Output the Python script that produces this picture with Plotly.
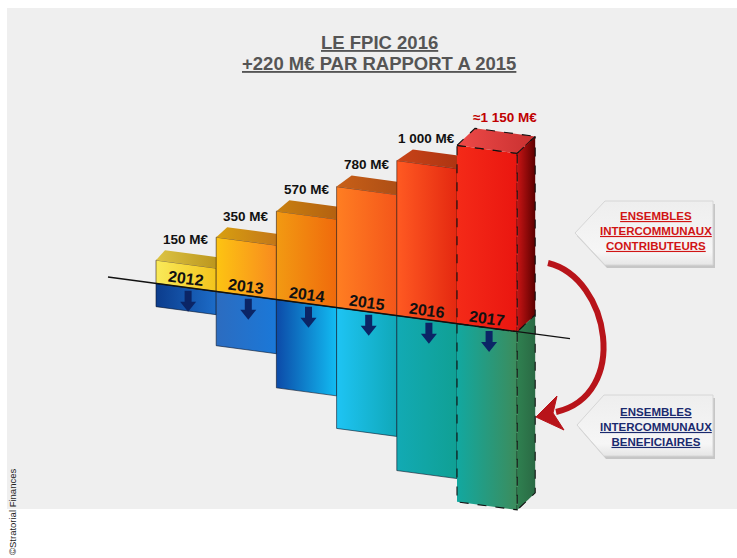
import math
import plotly.graph_objects as go

# ---- data -------------------------------------------------------------
years = ["2012", "2013", "2014", "2015", "2016", "2017"]
fpic_meur = [150, 350, 570, 780, 1000, 1150]          # national FPIC envelope, M€
estimated = [False, False, False, False, False, True]  # 2017 is a projection

title_lines = ["LE FPIC 2016", "+220 M€ PAR RAPPORT A 2015"]
contrib_label = ["ENSEMBLES", "INTERCOMMUNAUX", "CONTRIBUTEURS"]
benef_label = ["ENSEMBLES", "INTERCOMMUNAUX", "BENEFICIAIRES"]
credit = "©Stratorial Finances"

# ---- drawing geometry (pixel-like units, y axis pointing down) ---------
W, H = 737, 558
X0, BAR_W = 156.0, 60.2
BASE_X, BASE_Y, SLOPE = 108.0, 277.0, 0.1335
LINE_END_X = 570.0
PX_PER_MEUR = 0.155
DEPTH_DX = [9, 11, 13, 15, 16, 18]
DEPTH_DY = [-10, -10, -11, -11, -11, -17]

FRONT_UP = [("#f9ea5a", "#f3c41c"), ("#fdc412", "#f88a1e"), ("#f29a12", "#f06a0c"),
            ("#ff7e22", "#f4561a"), ("#ff5a22", "#e42810"), ("#f42a18", "#ea1610")]
TOP_UP = [("#dcc444", "#b89018"), ("#d8a010", "#c0701a"), ("#c88010", "#b05a10"),
          ("#c86018", "#a84a14"), ("#c84418", "#a83010"), ("#ee4a48", "#c83030")]
FRONT_DN = [("#0c3c8c", "#1c6cc8"), ("#2c6cc0", "#1a78d8"), ("#0c4aa8", "#12bcf2"),
            ("#1ec4f4", "#10a8b8"), ("#12aab4", "#10a094"), ("#12a8a0", "#3c8c5c")]
SIDE_UP = ("#c81414", "#5c0000")
SIDE_DN = ("#2f8050", "#2a6a44")
FONT = "Liberation Sans, Arial"


def base_y(x):
    return BASE_Y + SLOPE * (x - BASE_X)


fig = go.Figure()


def face(xs, ys, c0, c1, line_color="rgba(30,20,10,0.75)", dash=None, lw=0.8):
    fig.add_trace(go.Scatter(
        x=xs + [xs[0]], y=ys + [ys[0]], mode="lines", fill="toself",
        fillgradient=dict(type="horizontal", colorscale=[[0, c0], [1, c1]]),
        line=dict(color=line_color, width=lw, dash=dash),
        hoverinfo="skip", showlegend=False))


# beneficiaries: the same amounts redistributed below the axis
for i, v in enumerate(fpic_meur):
    x0 = X0 + i * BAR_W
    x1 = x0 + BAR_W
    h = v * PX_PER_MEUR
    dash = "dash" if estimated[i] else None
    lc = "#111111" if estimated[i] else "rgba(10,20,40,0.75)"
    face([x0, x1, x1, x0], [base_y(x0), base_y(x1), base_y(x1) + h, base_y(x0) + h],
         *FRONT_DN[i], line_color=lc, dash=dash, lw=1.1 if estimated[i] else 0.8)
    if estimated[i]:
        dx, dy = DEPTH_DX[i], DEPTH_DY[i]
        face([x1, x1 + dx, x1 + dx, x1],
             [base_y(x1), base_y(x1) + dy, base_y(x1) + dy + h, base_y(x1) + h],
             *SIDE_DN, line_color="#111111", dash="dash", lw=1.1)

# contributors: bars rising above the axis
for i, v in enumerate(fpic_meur):
    x0 = X0 + i * BAR_W
    x1 = x0 + BAR_W
    h = v * PX_PER_MEUR
    dx, dy = DEPTH_DX[i], DEPTH_DY[i]
    dash = "dash" if estimated[i] else None
    lc = "#111111" if estimated[i] else "rgba(40,20,10,0.7)"
    lw = 1.1 if estimated[i] else 0.8
    yt0, yt1 = base_y(x0) - h, base_y(x1) - h
    face([x0, x1, x1, x0], [yt0, yt1, base_y(x1), base_y(x0)],
         *FRONT_UP[i], line_color=lc, dash=dash, lw=lw)
    face([x0, x1, x1 + dx, x0 + dx], [yt0, yt1, yt1 + dy, yt0 + dy],
         *TOP_UP[i], line_color=lc if estimated[i] else "rgba(0,0,0,0)", dash=dash, lw=lw)
    if estimated[i]:
        face([x1, x1 + dx, x1 + dx, x1], [yt1, yt1 + dy, base_y(x1) + dy, base_y(x1)],
             *SIDE_UP, line_color="#111111", dash="dash", lw=1.1)

ann = []

# ---- right-hand callout boxes ------------------------------------------
boxes = [
    ([575, 605, 713, 713, 605], [233, 201, 201, 265, 265], contrib_label, "#d01414", 231),
    ([577, 604, 713, 713, 604], [425, 395, 395, 456, 456], benef_label, "#1a2a6e", 427),
]
for bx, by, lines, col, ymid in boxes:
    fig.add_trace(go.Scatter(x=[v + 2 for v in bx] + [bx[0] + 2], y=[v + 3 for v in by] + [by[0] + 3],
                             mode="lines", fill="toself", fillcolor="#c6c6c6",
                             line=dict(width=0), hoverinfo="skip", showlegend=False))
    fig.add_trace(go.Scatter(x=bx + [bx[0]], y=by + [by[0]], mode="lines", fill="toself",
                             fillgradient=dict(type="vertical",
                                               colorscale=[[0, "#e6e6e6"], [0.2, "#f6f6f6"], [1, "#eeeeee"]]),
                             line=dict(color="#d6d6d6", width=1), hoverinfo="skip", showlegend=False))
    ann.append(dict(x=656, y=ymid, showarrow=False, align="center",
                    text="<br>".join(f"<b><u>{t}</u></b>" for t in lines),
                    font=dict(family=FONT, size=11.5, color=col)))

# ---- decorations: axis line, down arrows, curved redistribution arrow --
shapes = [dict(type="rect", xref="x", yref="y", x0=7, y0=8, x1=W, y1=509,
               fillcolor="#efefef", line=dict(width=0), layer="below")]
for i in range(len(years)):
    cx = X0 + i * BAR_W + BAR_W / 2 + 2
    top, tip = base_y(cx) + 3, base_y(cx) + 24
    p = (f"M {cx-3.5},{top} L {cx+3.5},{top} L {cx+3.5},{tip-10} L {cx+8},{tip-10} "
         f"L {cx},{tip} L {cx-8},{tip-10} L {cx-3.5},{tip-10} Z")
    shapes.append(dict(type="path", path=p, xref="x", yref="y",
                       fillcolor="#0b2566", line=dict(width=0)))
shapes.append(dict(type="line", xref="x", yref="y", x0=BASE_X, y0=base_y(BASE_X),
                   x1=LINE_END_X, y1=base_y(LINE_END_X), line=dict(color="#111111", width=1.4)))
shapes.append(dict(type="path", xref="x", yref="y",
                   path="M 548,263 C 610,278 630,395 556,412",
                   line=dict(color="#b8141a", width=6)))
shapes.append(dict(type="path", xref="x", yref="y",
                   path="M 536,417 L 557,396 L 553,413 L 564,430 Z",
                   fillcolor="#b8141a", line=dict(color="#b8141a", width=1)))

# ---- text --------------------------------------------------------------
for k, t in enumerate(title_lines):
    ann.append(dict(x=379, y=42 + 21 * k, text=f"<b><u>{t}</u></b>", showarrow=False,
                    font=dict(family=FONT, size=18.5, color="#555555")))

angle = math.degrees(math.atan(SLOPE))
for i, (yr, v) in enumerate(zip(years, fpic_meur)):
    x0 = X0 + i * BAR_W
    cx = x0 + BAR_W / 2
    h = v * PX_PER_MEUR
    ann.append(dict(x=cx, y=base_y(cx) - 9, text=f"<b>{yr}</b>", showarrow=False,
                    textangle=angle, font=dict(family=FONT, size=16, color="#111111")))
    lab = f"{v:,}".replace(",", " ") + " M€"
    if estimated[i]:
        lab = "≈" + lab
    back_top = base_y(x0) - h + DEPTH_DY[i]
    ann.append(dict(x=cx + (DEPTH_DX[i] if estimated[i] else 0), y=back_top - 11,
                    text=f"<b>{lab}</b>", showarrow=False,
                    font=dict(family=FONT, size=13.5,
                              color="#c00000" if estimated[i] else "#111111")))

ann.append(dict(x=12, y=512, text=credit, showarrow=False, textangle=-90,
                font=dict(family=FONT, size=9.5, color="#222222")))
for a in ann:
    a.update(xref="x", yref="y", xanchor="center", yanchor="middle")

fig.update_layout(
    width=W, height=H, autosize=False,
    margin=dict(l=0, r=0, t=0, b=0),
    paper_bgcolor="#ffffff", plot_bgcolor="#ffffff",
    xaxis=dict(range=[0, W], visible=False, fixedrange=True),
    yaxis=dict(range=[H, 0], visible=False, fixedrange=True),
    shapes=shapes, annotations=ann, showlegend=False,
)

fig.write_html("out.html")
